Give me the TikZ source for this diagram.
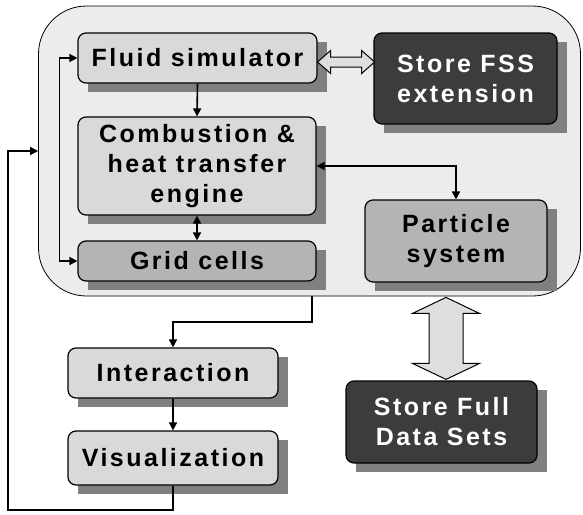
\documentclass[tikz,border=0pt]{standalone}
\usepackage{fontspec}
\newfontfamily\lbl[LetterSpace=10]{Liberation Sans}
\usetikzlibrary{arrows.meta,calc}

\definecolor{panel}{RGB}{236,236,236}
\definecolor{lightbox}{RGB}{217,217,217}
\definecolor{midbox}{RGB}{180,180,180}
\definecolor{darkbox}{RGB}{60,60,60}
\definecolor{shade}{RGB}{128,128,128}
\definecolor{hollow}{RGB}{222,222,222}

\tikzset{
  stage/.style={draw=black, line width=1.2, rounded corners=8, inner sep=0,
    align=center, font=\lbl\bfseries\fontsize{25}{30}\selectfont, text=black},
  light/.style={stage, fill=lightbox},
  mid/.style={stage, fill=midbox},
  dark/.style={stage, fill=darkbox, text=white},
  link/.style={line width=1.6, -{Triangle[length=8,width=8]}},
  twoway/.style={line width=1.6, {Triangle[length=8,width=8]}-{Triangle[length=8,width=8]}},
  hollowarrow/.style={draw=black, line width=1, fill=hollow, line join=miter},
  shadowbox/.style={fill=shade}
}

% box with a square drop shadow: name, style, x1, y1, x2, y2, text
\newcommand\stagebox[7]{%
  \fill[shadowbox] (#3+10,#4+9) rectangle (#5+10,#6+9);
  \node[#2, minimum width=#5-#3, minimum height=#6-#4] (#1)
    at ({(#3+#5)/2},{(#4+#6)/2}) {#7};
}

\begin{document}
\begin{tikzpicture}[x=1pt,y=-1pt]
\useasboundingbox (0,0) rectangle (583,514);

% simulation panel
\node[draw=black, line width=0.8, fill=panel, rounded corners=48,
  minimum width=542, minimum height=290, inner sep=0] (sim) at (309.5,151) {};

% blocks
\stagebox{fluid}{light}{78}{33}{317}{83}{Fluid simulator}
\stagebox{fss}{dark}{374}{33}{557}{124}{Store FSS\\extension}
\stagebox{combust}{light}{78}{117}{316}{215}{Combustion \&\\heat transfer\\engine}
\stagebox{grid}{mid}{78}{241}{316}{281}{Grid cells}
\stagebox{particle}{mid}{365}{200}{547}{282}{Particle\\system}
\stagebox{inter}{light}{68}{348}{278}{398}{Interaction}
\stagebox{visu}{light}{68}{431}{278}{485}{Visualization}
\stagebox{full}{dark}{346}{381}{537}{463}{Store Full\\Data Sets}

% hollow two-way arrows for storage
\coordinate (ha) at ($(fluid.east)+(0,4)$);
\draw[hollowarrow] (ha) -- ++(13,-11.5) -- ++(0,6.5) -- ++(31,0) -- ++(0,-6.5)
  -- ++(13,11.5) -- ++(-13,11.5) -- ++(0,-6.5) -- ++(-31,0) -- ++(0,6.5) -- cycle;
\coordinate (va) at ($(full.north)+(4.5,-83)$);
\draw[hollowarrow] (va) -- ++(33.5,16) -- ++(-16.5,0) -- ++(0,50) -- ++(16.5,0)
  -- ++(-33.5,16) -- ++(-33.5,-16) -- ++(16.5,0) -- ++(0,-50) -- ++(-16.5,0) -- cycle;

% connectors
\draw[link] (fluid.south) -- (combust.north);
\draw[twoway] (combust.south) -- (grid.north);
\draw[twoway] (fluid.west) -- ++(-18,0) |- (grid.west);
\draw[twoway] (combust.east) -| (particle.north);
\coordinate (gi) at (312,296);
\draw[link] (gi) -- ++(0,26) -| (inter.north);
\draw[link] (inter.south) -- (visu.north);
\draw[link] (visu.south) |- (8,510) |- (sim.west);
\end{tikzpicture}
\end{document}
